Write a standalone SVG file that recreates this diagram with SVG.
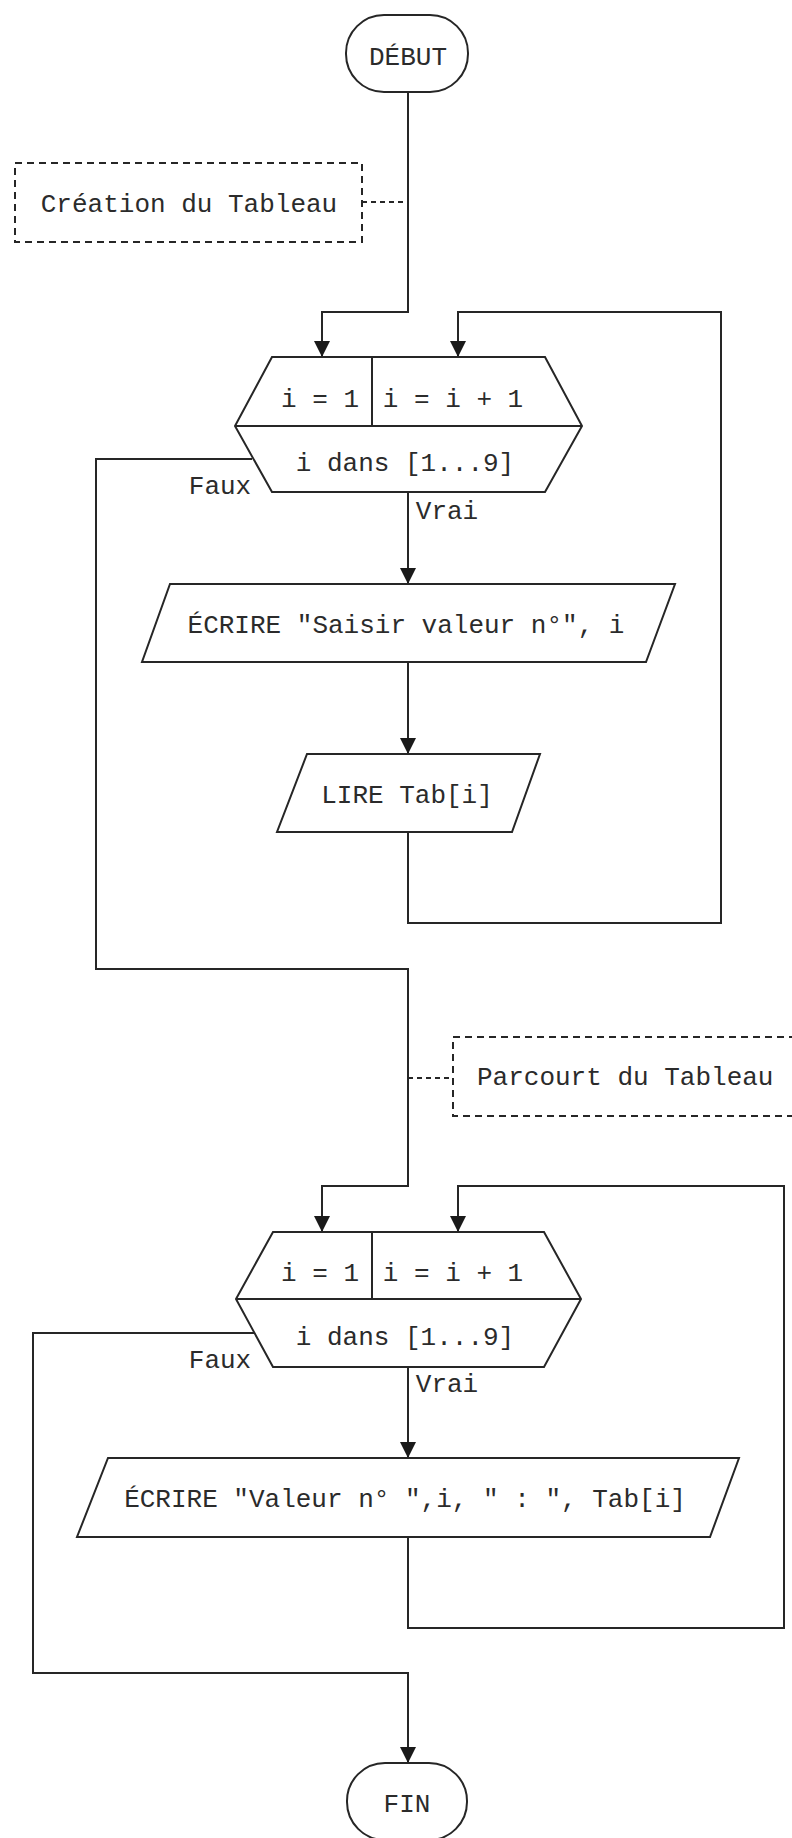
<svg xmlns="http://www.w3.org/2000/svg" width="792" height="1838" viewBox="0 0 792 1838">
  <style>
    .shape { fill: #ffffff; stroke: #262626; stroke-width: 2; }
    .note { fill: none; stroke: #262626; stroke-width: 2; stroke-dasharray: 7 5; }
    .wire { fill: none; stroke: #262626; stroke-width: 2; }
    .dash { fill: none; stroke: #262626; stroke-width: 2; stroke-dasharray: 5 4; }
    .lbl { font-family: "Liberation Mono", "Courier New", monospace; font-size: 26px; fill: #2b2b2b; }
    .mid { text-anchor: middle; }
  </style>
  <defs>
    <marker id="arrow" viewBox="0 0 16 16" refX="16" refY="8" markerWidth="16" markerHeight="16" markerUnits="userSpaceOnUse" orient="auto">
      <path d="M0,0 L16,8 L0,16 Z" fill="#1a1a1a"/>
    </marker>
  </defs>
  <rect width="792" height="1838" fill="#ffffff"/>

  <!-- connectors -->
  <g id="connectors">
    <!-- start to first loop -->
    <path class="wire" d="M408,92 V312 H322 V357" marker-end="url(#arrow)"/>
    <!-- first loop body -->
    <path class="wire" d="M408,492 V584" marker-end="url(#arrow)"/>
    <path class="wire" d="M408,662 V754" marker-end="url(#arrow)"/>
    <path class="wire" d="M408,832 V923 H721 V312 H458 V357" marker-end="url(#arrow)"/>
    <!-- first loop exit to second loop -->
    <path class="wire" d="M252,459 H96 V969 H408 V1186 H322 V1232" marker-end="url(#arrow)"/>
    <!-- second loop body -->
    <path class="wire" d="M408,1367 V1458" marker-end="url(#arrow)"/>
    <path class="wire" d="M408,1537 V1628 H784 V1186 H458 V1232" marker-end="url(#arrow)"/>
    <!-- second loop exit to end -->
    <path class="wire" d="M254,1333 H33 V1673 H408 V1763" marker-end="url(#arrow)"/>
    <!-- comment links -->
    <path class="dash" d="M362,202 H408"/>
    <path class="dash" d="M408,1078 H453"/>
    <!-- branch labels -->
    <text class="lbl mid" x="220" y="494">Faux</text>
    <text class="lbl mid" x="447" y="519">Vrai</text>
    <text class="lbl mid" x="220" y="1368">Faux</text>
    <text class="lbl mid" x="447" y="1392">Vrai</text>
  </g>

  <g id="debut">
    <rect class="shape" x="346" y="15" width="122" height="77" rx="38" ry="38"/>
    <text class="lbl mid" x="408" y="65">DÉBUT</text>
  </g>

  <g id="note-creation">
    <rect class="note" x="15" y="163" width="347" height="79"/>
    <text class="lbl mid" x="189" y="212">Création du Tableau</text>
  </g>

  <g id="loop1">
    <polygon class="shape" points="272,357 545,357 582,426 545,492 272,492 235,426"/>
    <line class="wire" x1="235" y1="426" x2="582" y2="426"/>
    <line class="wire" x1="372" y1="357" x2="372" y2="426"/>
    <text class="lbl mid" x="320" y="407">i = 1</text>
    <text class="lbl mid" x="453" y="407">i = i + 1</text>
    <text class="lbl mid" x="405" y="471">i dans [1...9]</text>
  </g>

  <g id="ecrire1">
    <polygon class="shape" points="170,584 675,584 646,662 142,662"/>
    <text class="lbl mid" x="406" y="633">ÉCRIRE "Saisir valeur n°", i</text>
  </g>

  <g id="lire">
    <polygon class="shape" points="307,754 540,754 512,832 277,832"/>
    <text class="lbl mid" x="407" y="803">LIRE Tab[i]</text>
  </g>

  <g id="note-parcourt">
    <rect class="note" x="453" y="1037" width="347" height="79"/>
    <text class="lbl" x="477" y="1085">Parcourt du Tableau</text>
  </g>

  <g id="loop2">
    <polygon class="shape" points="273,1232 544,1232 581,1299 544,1367 273,1367 236,1299"/>
    <line class="wire" x1="236" y1="1299" x2="581" y2="1299"/>
    <line class="wire" x1="372" y1="1232" x2="372" y2="1299"/>
    <text class="lbl mid" x="320" y="1281">i = 1</text>
    <text class="lbl mid" x="453" y="1281">i = i + 1</text>
    <text class="lbl mid" x="405" y="1345">i dans [1...9]</text>
  </g>

  <g id="ecrire2">
    <polygon class="shape" points="108,1458 739,1458 710,1537 77,1537"/>
    <text class="lbl mid" x="405" y="1507">ÉCRIRE "Valeur n° ",i, " : ", Tab[i]</text>
  </g>

  <g id="fin">
    <rect class="shape" x="347" y="1763" width="120" height="77" rx="38" ry="38"/>
    <text class="lbl mid" x="407" y="1812">FIN</text>
  </g>
</svg>
